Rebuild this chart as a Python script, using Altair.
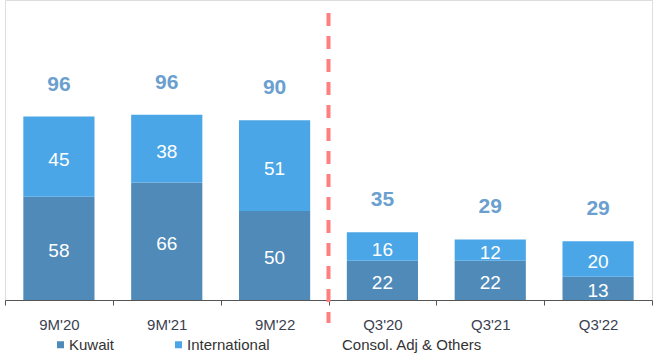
import altair as alt
import pandas as pd

categories = ["9M'20", "9M'21", "9M'22", "Q3'20", "Q3'21", "Q3'22"]
kuwait = [58, 66, 50, 22, 22, 13]
international = [45, 38, 51, 16, 12, 20]
consol_adj = [-7, -8, -11, -3, -5, -4]
series = ["Kuwait", "International", "Consol. Adj & Others"]

DARK = "#4f8ab8"
LIGHT = "#4aa6e6"
FONT = "Liberation Sans"

rows = []
for c, k, i in zip(categories, kuwait, international):
    rows.append({"cat": c, "series": "Kuwait", "v0": 0, "v1": k, "mid": k / 2, "val": k})
    rows.append({"cat": c, "series": "International", "v0": k, "v1": k + i, "mid": k + i / 2, "val": i})
bars = pd.DataFrame(rows)

totals = pd.DataFrame({
    "cat": categories,
    "top": [k + i for k, i in zip(kuwait, international)],
    "total": [k + i + a for k, i, a in zip(kuwait, international, consol_adj)],
})

xenc = alt.X("cat:N", sort=categories, title=None,
             scale=alt.Scale(paddingInner=0, paddingOuter=0),
             axis=alt.Axis(labelAngle=0, labelFont=FONT, labelFontSize=15, labelColor="#3b4150",
                           domainColor="#555555", tickColor="#555555", tickSize=5,
                           tickBand="extent", labelPadding=12, domainWidth=1))
yscale = alt.Scale(domain=[0, 168.5], nice=False)

bar = alt.Chart(bars).mark_bar(width=alt.RelativeBandSize(0.66)).encode(
    x=xenc,
    y=alt.Y("v0:Q", scale=yscale, axis=None),
    y2="v1:Q",
    color=alt.Color("series:N",
                    scale=alt.Scale(domain=series, range=[DARK, LIGHT, "#ffffff"]),
                    legend=alt.Legend(title=None, orient="none", legendX=48, legendY=337,
                                      direction="horizontal", columns=3, columnPadding=56,
                                      symbolType="square", symbolSize=49, symbolStrokeWidth=0,
                                      labelFont=FONT, labelFontSize=15, labelColor="#333333",
                                      labelOffset=1, padding=0)),
)

inner = alt.Chart(bars).mark_text(font=FONT, fontSize=19, color="#ffffff", dy=3).encode(
    x=alt.X("cat:N", sort=categories),
    y=alt.Y("mid:Q", scale=yscale),
    text="val:Q",
)

tot = alt.Chart(totals).mark_text(font=FONT, fontSize=21, fontWeight="bold", color="#6a9fd0", dy=-32).encode(
    x=alt.X("cat:N", sort=categories),
    y=alt.Y("top:Q", scale=yscale),
    text="total:Q",
)

divider = alt.Chart(pd.DataFrame({"cat": ["Q3'20"]})).mark_rule(
    color="#ff7f7f", strokeWidth=4, strokeDash=[13, 10]
).encode(
    x=alt.X("cat:N", sort=categories, bandPosition=0),
    y=alt.value(13),
    y2=alt.value(323),
)

chart = alt.layer(bar, inner, tot, divider).properties(
    width=647, height=300,
    padding={"left": 5, "top": 0, "right": 2, "bottom": 56},
    autosize=alt.AutoSizeParams(type="none"),
).configure_view(stroke=None).configure(background="#ffffff")

chart.save("out.html", embed_options={"renderer": "svg", "actions": False})
